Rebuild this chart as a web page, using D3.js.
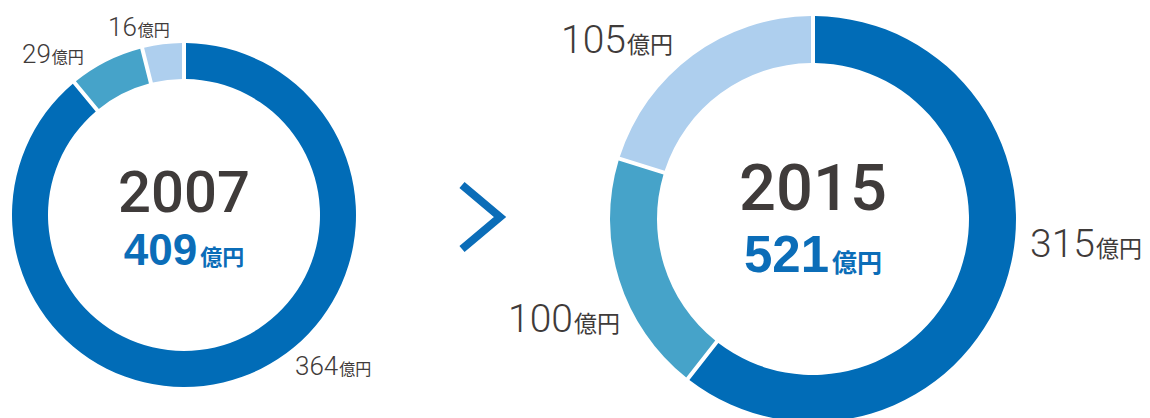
<!DOCTYPE html>
<html>
<head>
<meta charset="utf-8">
<script src="https://cdn.jsdelivr.net/npm/d3@7"></script>
<style>
  body { margin: 0; background: #fff; }
  svg text { font-family: "Helvetica Neue", Roboto, "Noto Sans CJK JP", sans-serif; }
</style>
</head>
<body>
<div class="chart"></div>
<script>
// data
const years = ["2007", "2015"];
const totals = [409, 521];
const segments = ["main", "second", "third"];
const values2007 = [364, 29, 16];
const values2015 = [315, 100, 105];
const unit = "億円";

// layout / style
const W = 1150, H = 418;
const colors = { main: "#016cb7", second: "#46a3c9", third: "#aecfee" };
const textGray = "#3f3b3a";
const accent = "#0b6db8";

const charts = [
  { year: years[0], total: totals[0], values: values2007, cx: 184, cy: 215, r: 172, ri: 136,
    yearSize: 58, yearY: 212, totY: 265, totSize: 44, totUnit: 22,
    labelSize: 26, labelUnit: 16,
    labels: [[295, 375], [22, 63], [108, 36]] },
  { year: years[1], total: totals[1], values: values2015, cx: 813, cy: 219, r: 203, ri: 156,
    yearSize: 65, yearY: 210, totY: 272, totSize: 51, totUnit: 25,
    labelSize: 39, labelUnit: 23,
    labels: [[1030, 257], [508, 332], [561, 53]] }
];

const svg = d3.select(".chart")
  .append("svg")
  .attr("width", W)
  .attr("height", H);

const pie = d3.pie().sort(null).value(d => d.v);

charts.forEach(c => {
  const g = svg.append("g").attr("transform", `translate(${c.cx},${c.cy})`);
  const data = c.values.map((v, i) => ({ key: segments[i], v: v }));
  const arc = d3.arc()
    .innerRadius(c.ri)
    .outerRadius(c.r)
    .padRadius(c.r)
    .padAngle(4 / c.r);

  g.selectAll("path")
    .data(pie(data))
    .join("path")
    .attr("d", arc)
    .attr("fill", d => colors[d.data.key]);

  // center year
  g.append("text")
    .attr("text-anchor", "middle")
    .attr("y", c.yearY - c.cy)
    .attr("fill", textGray)
    .attr("font-size", c.yearSize)
    .attr("font-weight", 500)
    .text(c.year);

  // center total
  const t = g.append("text")
    .attr("text-anchor", "middle")
    .attr("y", c.totY - c.cy)
    .attr("fill", accent)
    .attr("font-weight", 700);
  t.append("tspan")
    .attr("font-size", c.totSize)
    .attr("font-family", "'Liberation Sans', Arial, sans-serif")
    .text(c.total);
  t.append("tspan").attr("font-size", c.totUnit).attr("dx", 3).text(unit);

  // segment labels
  data.forEach((d, i) => {
    const lt = svg.append("text")
      .attr("x", c.labels[i][0])
      .attr("y", c.labels[i][1])
      .attr("fill", textGray)
      .attr("font-weight", 300);
    lt.append("tspan").attr("font-size", c.labelSize).text(d.v);
    lt.append("tspan").attr("font-size", c.labelUnit).attr("font-weight", 400).attr("dx", 1).text(unit);
  });
});

// arrow between charts
svg.append("path")
  .attr("d", d3.line()([[462, 185], [500, 217], [462, 249]]))
  .attr("fill", "none")
  .attr("stroke", accent)
  .attr("stroke-width", 8);
</script>
</body>
</html>
